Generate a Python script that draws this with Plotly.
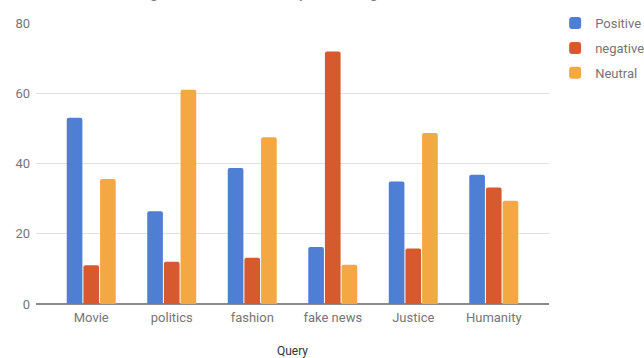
import plotly.graph_objects as go

categories = ["Movie", "politics", "fashion", "fake news", "Justice", "Humanity"]
positive = [53.0, 26.4, 38.7, 16.2, 34.9, 36.8]
negative = [11.0, 12.0, 13.2, 71.9, 15.8, 33.2]
neutral = [35.6, 61.0, 47.5, 11.2, 48.7, 29.4]
y_ticks = [0, 20, 40, 60, 80]
title_text = "Positive, Negative and Neutral percentage"

series = [
    ("Positive", positive, "#4e7fd5"),
    ("negative", negative, "#d65a2d"),
    ("Neutral", neutral, "#f4a843"),
]

fig = go.Figure()
for name, vals, col in series:
    fig.add_trace(go.Bar(
        x=categories, y=vals, name=name, legendgroup=name,
        marker=dict(color=col, line=dict(width=0), cornerradius=2),
    ))

fig.update_layout(
    width=644, height=358,
    margin=dict(l=36, r=95, t=23, b=54, autoexpand=False),
    paper_bgcolor="white", plot_bgcolor="white",
    barmode="group", bargap=0.379, bargroupgap=0.06,
    font=dict(family="Roboto, Arial, sans-serif", size=13, color="#757575"),
    legend=dict(x=1.012, y=1.053, xanchor="left", yanchor="top",
                font=dict(size=13, color="#757575"), tracegroupgap=5,
                bgcolor="rgba(0,0,0,0)"),
    showlegend=True,
)
fig.add_annotation(
    text=title_text, xref="paper", yref="paper", x=17 / 513, y=1.0,
    xanchor="left", yanchor="bottom", yshift=20, showarrow=False,
    font=dict(size=18, color="#757575"),
)
fig.update_xaxes(
    range=[-0.686, 5.686], showgrid=False, showline=False, zeroline=False,
    ticks="", ticklabelstandoff=4, tickfont=dict(size=13, color="#757575"),
    title=dict(text="Query", font=dict(size=12, color="#333333"), standoff=26),
)
fig.update_yaxes(
    range=[0, 80], tickvals=y_ticks, showgrid=True, gridcolor="#e0e0e0", gridwidth=1,
    zeroline=True, zerolinecolor="#8a8a8a", zerolinewidth=1.5, showline=False,
    ticks="", ticklabelstandoff=5, tickfont=dict(size=13, color="#757575"),
)

fig.write_html("out.html")
